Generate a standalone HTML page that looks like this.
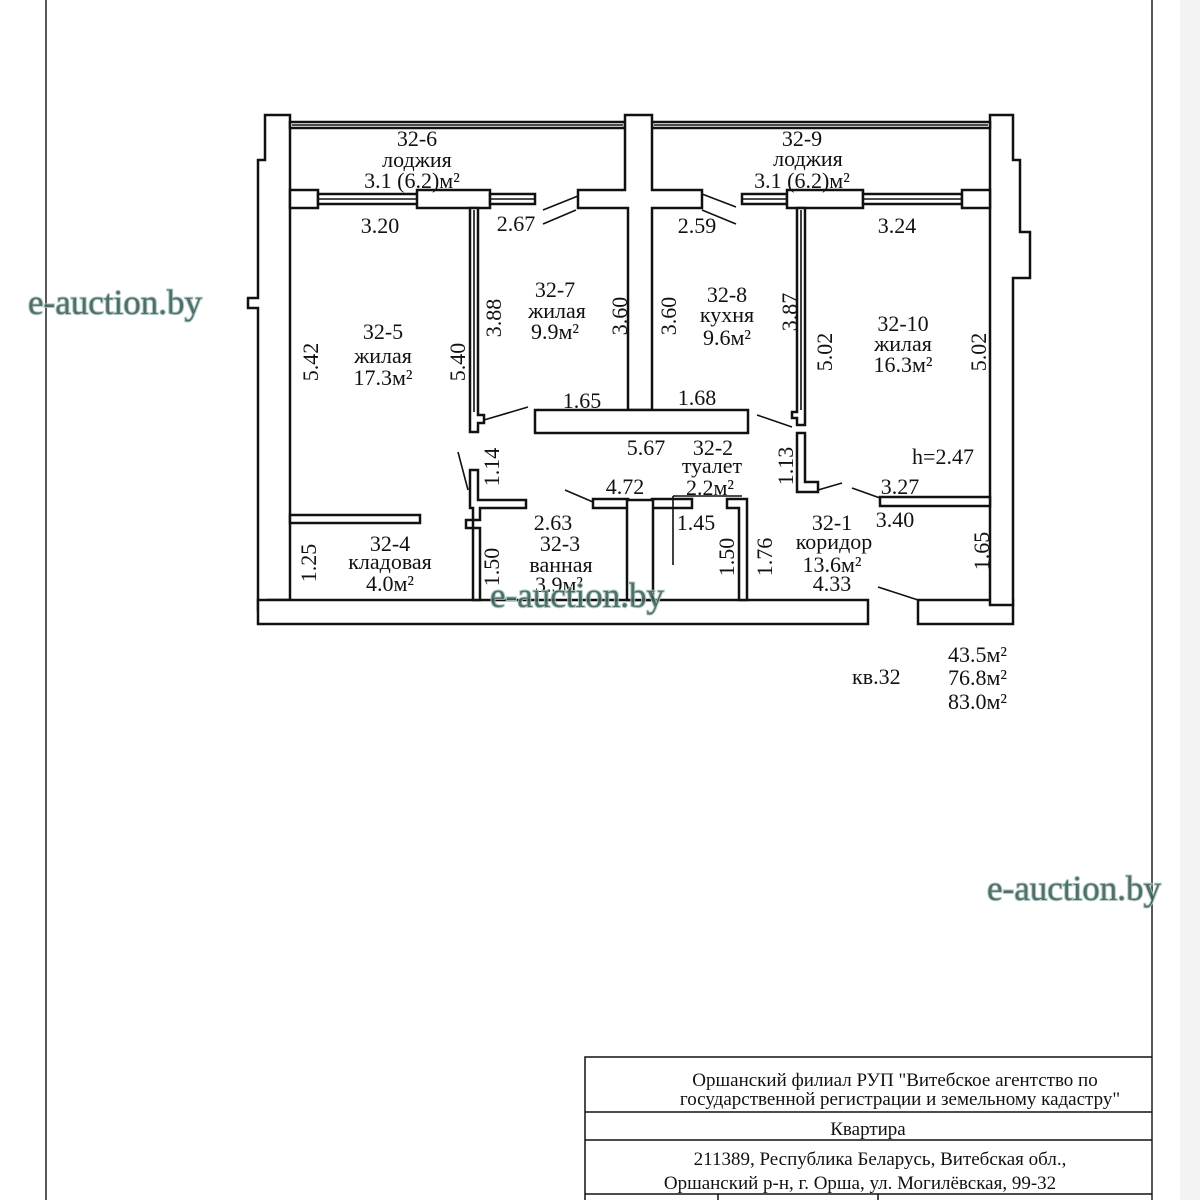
<!DOCTYPE html>
<html><head><meta charset="utf-8"><style>
body{margin:0;background:#fff}
svg{display:block}
text{font-family:"Liberation Serif",serif;fill:#111;font-size:22px}
.wm{font-family:"Liberation Serif",serif;font-size:35px;fill:#3f5f5a;stroke:#a9c6c0;stroke-width:2;paint-order:stroke;opacity:.9}
.sm{font-size:19px}
</style></head><body>
<svg width="1200" height="1200" viewBox="0 0 1200 1200" xmlns="http://www.w3.org/2000/svg">
<rect width="1200" height="1200" fill="#fff"/>
<rect x="1180" y="0" width="20" height="1200" fill="#f3f3f3"/>
<line x1="46" y1="0" x2="46" y2="1200" stroke="#222" stroke-width="1.5"/>
<line x1="1152" y1="0" x2="1152" y2="1200" stroke="#222" stroke-width="1.5"/>
<g fill="#fff" stroke="#111" stroke-width="2.5">
<path d="M265 115 H290 V600 H268 V610 H258 V308 H248 V298 H258 V160 H265 Z"/>
<path d="M258 600 H868 V624 H258 Z"/>
<path d="M918 600 H1013 V624 H918 Z"/>
<path d="M990 115 H1013 V160 H1020 V232 H1030 V278 H1013 V605 H990 Z"/>
<rect x="290" y="122" width="335" height="6"/>
<rect x="652" y="122" width="338" height="6"/>
<path d="M625 115 H652 V190 H702 V208 H652 V410 H628 V208 H578 V190 H625 Z"/>
<rect x="290" y="190" width="28" height="18"/>
<rect x="318" y="194" width="100" height="10"/>
<rect x="417" y="190" width="73" height="18"/>
<rect x="490" y="194" width="45" height="10"/>
<rect x="742" y="194" width="45" height="10"/>
<rect x="787" y="190" width="76" height="18"/>
<rect x="863" y="194" width="99" height="10"/>
<rect x="962" y="190" width="28" height="18"/>
<path d="M470 208 H478 V415 H484 V423 H478 V432 H470 Z"/>
<path d="M470 470 H478 V500 H526 V508 H480 V520 H473 V528 H480 V600 H473 V528 H466 V520 H473 V508 H470 Z"/>
<path d="M797 208 H805 V425 H797 V418 H792 V412 H797 Z"/>
<path d="M797 433 H805 V482 H818 V492 H797 Z"/>
<rect x="535" y="410" width="213" height="23"/>
<rect x="290" y="515" width="130" height="8"/>
<rect x="593" y="499" width="35" height="9"/>
<rect x="652" y="499" width="40" height="9"/>
<rect x="627" y="500" width="26" height="100"/>
<path d="M727 499 H747 V600 H739 V508 H727 Z"/>
<rect x="880" y="497" width="110" height="9"/>
</g>
<g stroke="#111" stroke-width="1.6" fill="none">
<line x1="292" y1="125" x2="623" y2="125"/>
<line x1="654" y1="125" x2="988" y2="125"/>
<line x1="318" y1="199" x2="417" y2="199"/>
<line x1="490" y1="199" x2="535" y2="199"/>
<line x1="742" y1="199" x2="787" y2="199"/>
<line x1="863" y1="199" x2="962" y2="199"/>
<line x1="474" y1="210" x2="474" y2="412"/>
<line x1="801" y1="210" x2="801" y2="410"/>
<line x1="543" y1="210" x2="578" y2="196"/>
<line x1="543" y1="224" x2="576" y2="210"/>
<line x1="702" y1="194" x2="736" y2="207"/>
<line x1="702" y1="210" x2="736" y2="224"/>
<line x1="484" y1="420" x2="528" y2="407"/>
<line x1="458" y1="452" x2="468" y2="490"/>
<line x1="565" y1="490" x2="593" y2="502"/>
<line x1="757" y1="415" x2="792" y2="427"/>
<line x1="818" y1="490" x2="842" y2="483"/>
<line x1="852" y1="488" x2="880" y2="498"/>
<line x1="878" y1="587" x2="918" y2="600"/>
<line x1="673" y1="496" x2="742" y2="496"/>
<line x1="673" y1="496" x2="673" y2="565"/>
</g>
<text x="417" y="146" text-anchor="middle">32-6</text>
<text x="417" y="167" text-anchor="middle">лоджия</text>
<text x="412" y="188" text-anchor="middle">3.1 (6.2)м²</text>
<text x="802" y="146" text-anchor="middle">32-9</text>
<text x="808" y="166" text-anchor="middle">лоджия</text>
<text x="802" y="188" text-anchor="middle">3.1 (6.2)м²</text>
<text x="380" y="233" text-anchor="middle">3.20</text>
<text x="516" y="231" text-anchor="middle">2.67</text>
<text x="697" y="233" text-anchor="middle">2.59</text>
<text x="897" y="233" text-anchor="middle">3.24</text>
<text x="383" y="339" text-anchor="middle">32-5</text>
<text x="383" y="363" text-anchor="middle">жилая</text>
<text x="383" y="385" text-anchor="middle">17.3м²</text>
<text x="555" y="297" text-anchor="middle">32-7</text>
<text x="557" y="318" text-anchor="middle">жилая</text>
<text x="555" y="339" text-anchor="middle">9.9м²</text>
<text x="727" y="302" text-anchor="middle">32-8</text>
<text x="727" y="322" text-anchor="middle">кухня</text>
<text x="727" y="345" text-anchor="middle">9.6м²</text>
<text x="903" y="331" text-anchor="middle">32-10</text>
<text x="903" y="351" text-anchor="middle">жилая</text>
<text x="903" y="372" text-anchor="middle">16.3м²</text>
<text x="582" y="408" text-anchor="middle">1.65</text>
<text x="697" y="405" text-anchor="middle">1.68</text>
<text x="646" y="455" text-anchor="middle">5.67</text>
<text x="713" y="455" text-anchor="middle">32-2</text>
<text x="712" y="473" text-anchor="middle">туалет</text>
<text x="710" y="495" text-anchor="middle">2.2м²</text>
<text x="625" y="494" text-anchor="middle">4.72</text>
<text x="943" y="464" text-anchor="middle">h=2.47</text>
<text x="900" y="494" text-anchor="middle">3.27</text>
<text x="553" y="530" text-anchor="middle">2.63</text>
<text x="560" y="551" text-anchor="middle">32-3</text>
<text x="561" y="572" text-anchor="middle">ванная</text>
<text x="559" y="592" text-anchor="middle">3.9м²</text>
<text x="696" y="530" text-anchor="middle">1.45</text>
<text x="832" y="530" text-anchor="middle">32-1</text>
<text x="834" y="549" text-anchor="middle">коридор</text>
<text x="832" y="572" text-anchor="middle">13.6м²</text>
<text x="832" y="591" text-anchor="middle">4.33</text>
<text x="895" y="527" text-anchor="middle">3.40</text>
<text x="390" y="551" text-anchor="middle">32-4</text>
<text x="390" y="569" text-anchor="middle">кладовая</text>
<text x="390" y="591" text-anchor="middle">4.0м²</text>
<g>
<text transform="translate(318,362) rotate(-90)" text-anchor="middle">5.42</text>
<text transform="translate(465,362) rotate(-90)" text-anchor="middle">5.40</text>
<text transform="translate(501,318) rotate(-90)" text-anchor="middle">3.88</text>
<text transform="translate(627,316) rotate(-90)" text-anchor="middle">3.60</text>
<text transform="translate(676,316) rotate(-90)" text-anchor="middle">3.60</text>
<text transform="translate(797,312) rotate(-90)" text-anchor="middle">3.87</text>
<text transform="translate(832,352) rotate(-90)" text-anchor="middle">5.02</text>
<text transform="translate(986,352) rotate(-90)" text-anchor="middle">5.02</text>
<text transform="translate(499,467) rotate(-90)" text-anchor="middle">1.14</text>
<text transform="translate(793,466) rotate(-90)" text-anchor="middle">1.13</text>
<text transform="translate(316,563) rotate(-90)" text-anchor="middle">1.25</text>
<text transform="translate(499,567) rotate(-90)" text-anchor="middle">1.50</text>
<text transform="translate(734,557) rotate(-90)" text-anchor="middle">1.50</text>
<text transform="translate(772,557) rotate(-90)" text-anchor="middle">1.76</text>
<text transform="translate(989,551) rotate(-90)" text-anchor="middle">1.65</text>
</g>
<text x="852" y="684">кв.32</text>
<text x="1007" y="662" text-anchor="end">43.5м²</text>
<text x="1007" y="685" text-anchor="end">76.8м²</text>
<text x="1007" y="709" text-anchor="end">83.0м²</text>
<text class="wm" x="28" y="314">e-auction.by</text>
<text class="wm" x="490" y="607">e-auction.by</text>
<text class="wm" x="987" y="900">e-auction.by</text>
<g stroke="#111" stroke-width="1.5" fill="none">
<path d="M585 1200 V1057 H1152"/>
<line x1="585" y1="1112" x2="1152" y2="1112"/>
<line x1="585" y1="1140" x2="1152" y2="1140"/>
<line x1="585" y1="1194" x2="1152" y2="1194"/>
<line x1="718" y1="1194" x2="718" y2="1200"/>
<line x1="878" y1="1194" x2="878" y2="1200"/>
</g>
<text class="sm" x="895" y="1086" text-anchor="middle">Оршанский филиал РУП "Витебское агентство по</text>
<text class="sm" x="900" y="1105" text-anchor="middle">государственной регистрации и земельному кадастру"</text>
<text class="sm" x="868" y="1135" text-anchor="middle">Квартира</text>
<text class="sm" x="880" y="1165" text-anchor="middle">211389, Республика Беларусь, Витебская обл.,</text>
<text class="sm" x="860" y="1189" text-anchor="middle">Оршанский р-н, г. Орша, ул. Могилёвская, 99-32</text>
</svg>
</body></html>
